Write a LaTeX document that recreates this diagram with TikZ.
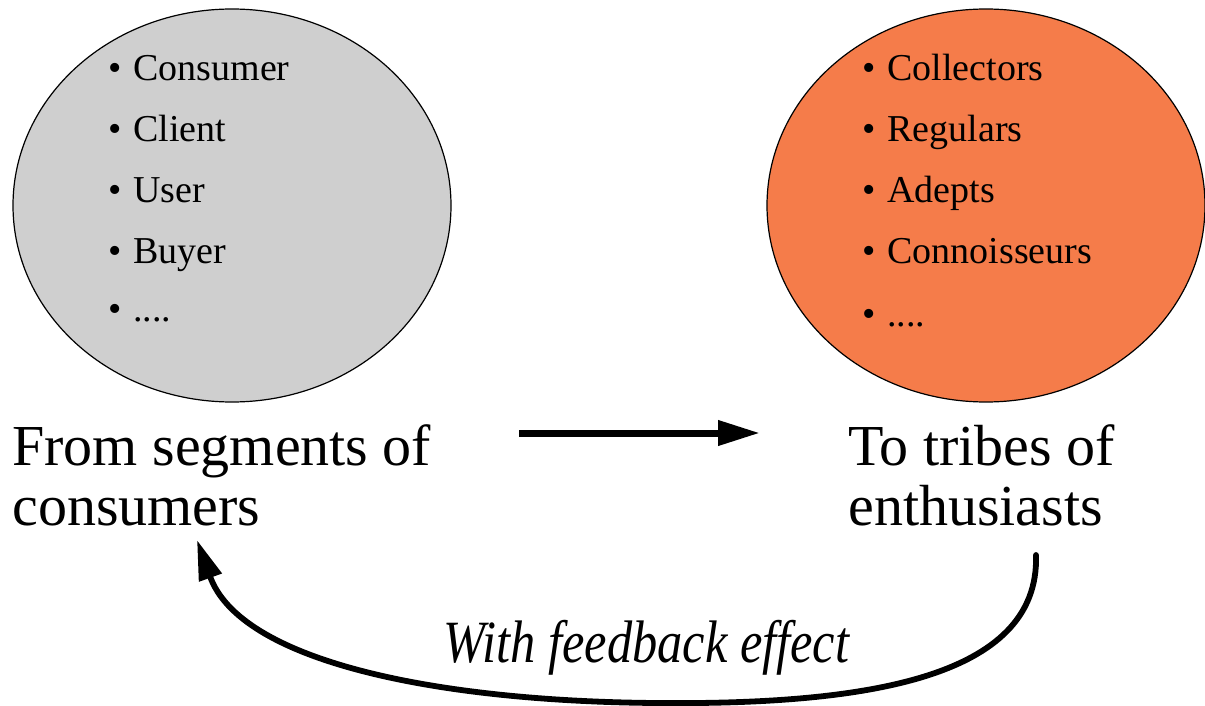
\documentclass[tikz,border=0pt]{standalone}
\usepackage{fontspec}
\setmainfont{Liberation Serif}
\usetikzlibrary{shapes.geometric,arrows.meta}
\definecolor{segfill}{HTML}{CFCFCF}
\definecolor{tribefill}{HTML}{F57C4A}
\begin{document}
\begin{tikzpicture}[x=0.5pt,y=-0.5pt,
  blob/.style={ellipse,draw=black,line width=0.6pt,minimum width=219pt,minimum height=196.5pt,inner sep=0pt},
  item/.style={anchor=base west,inner sep=0pt,font=\fontsize{19}{22}\selectfont},
  big/.style={anchor=base west,inner sep=0pt,font=\fontsize{29}{30}\selectfont},
  note/.style={anchor=base west,inner sep=0pt,font=\fontsize{30}{32}\selectfont\itshape},
  mainarrow/.style={line width=3.5pt,-{Triangle[length=21pt,width=12pt]}},
  fbarrow/.style={line width=2.9pt,line cap=round,-{Triangle[length=20pt,width=11.5pt]}}]
\useasboundingbox (0,0) rectangle (1205,706);
\newcommand{\bul}[1]{\makebox[12.5pt][l]{•}#1}
% ellipses
\node[blob,fill=segfill] (seg) at (232,205.5) {};
\node[blob,fill=tribefill] (tribe) at (986,205.5) {};
% left list
\node[item] (l1) at (108,81) {\bul{Consumer}};
\node[item] (l2) at (108,141) {\bul{Client}};
\node[item] (l3) at (108,202) {\bul{User}};
\node[item] (l4) at (108,263) {\bul{Buyer}};
\node[item] (l5) at (108,321) {\bul{....}};
% right list
\node[item] (r1) at (862,81) {\bul{Collectors}};
\node[item] (r2) at (862,141) {\bul{Regulars}};
\node[item] (r3) at (862,202) {\bul{Adepts}};
\node[item] (r4) at (862,263) {\bul{Connoisseurs}};
\node[item] (r5) at (862,326) {\bul{....}};
% captions
\node[big] (from1) at (12,465) {From segments of};
\node[big] (from2) at (12,525) {consumers};
\node[big] (to1) at (848,465) {To tribes of};
\node[big] (to2) at (848,525) {enthusiasts};
\node[note] (fb) at (443,662) {\scalebox{0.84}[1]{With feedback effect}};
% arrows
\coordinate (a1) at (519,433);
\coordinate (a2) at (760,433);
\draw[mainarrow] (a1) -- (a2);
\coordinate (c1) at (1036,555);
\coordinate (cm) at (655,703);
\coordinate (c2) at (197,540);
\draw[fbarrow] (c1) .. controls (1040,680) and (860,705) .. (cm)
  .. controls (430,701) and (240,660) .. (c2);
\end{tikzpicture}
\end{document}
